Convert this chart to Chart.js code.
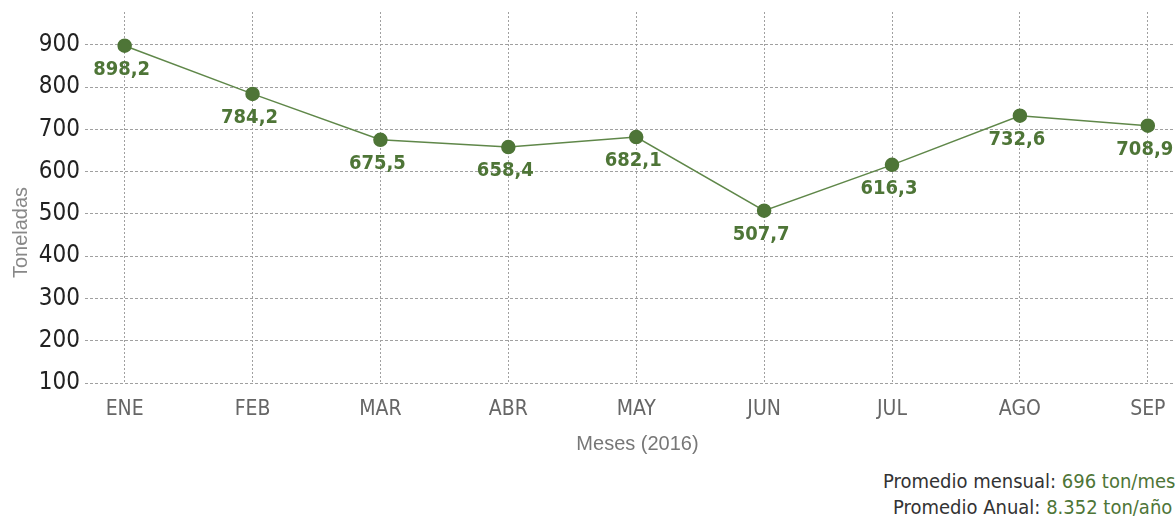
<!DOCTYPE html>
<html>
<head>
<meta charset="utf-8">
<script src="https://cdn.jsdelivr.net/npm/chart.js@4/dist/chart.umd.min.js"></script>
<style>
  html, body { margin: 0; padding: 0; background: #fff; overflow: hidden; }
  #wrap { position: relative; width: 1198px; height: 522px; overflow: hidden; }
  #chart-box { position: absolute; left: 0; top: 0; width: 1198px; height: 460px; }
  .resumen {
    position: absolute; white-space: nowrap;
    font-family: "DejaVu Sans Condensed", "Liberation Sans Narrow", sans-serif;
    font-size: 20px; line-height: 26px; color: #333;
  }
  .resumen b { font-weight: normal; color: #4e7537; }
</style>
</head>
<body>
<div id="wrap">
  <div id="chart-box"><canvas id="line-chart"></canvas></div>
  <div class="resumen" style="left:883px; top:468px;">Promedio mensual: <b>696 ton/mes</b></div>
  <div class="resumen" style="left:893px; top:494px;">Promedio Anual: <b>8.352 ton/año</b></div>
</div>
<script>
var meses = ['ENE', 'FEB', 'MAR', 'ABR', 'MAY', 'JUN', 'JUL', 'AGO', 'SEP'];
var toneladas = [898.2, 784.2, 675.5, 658.4, 682.1, 507.7, 616.3, 732.6, 708.9];
var yMin = 100;
var yMax = 900;
var yStep = 100;

var verde = '#4e7537';

puntos = [];
for (i = 0; i < meses.length; i++) {
    puntos.push({ x: i, y: toneladas[i] });
}

// value labels under each point, decimal comma
var etiquetas = {
    id: 'etiquetas',
    afterDatasetsDraw: function (chart) {
        var ctx = chart.ctx;
        var meta = chart.getDatasetMeta(0);
        ctx.save();
        ctx.font = 'bold 20px "DejaVu Sans Condensed", "Liberation Sans Narrow", sans-serif';
        ctx.fillStyle = verde;
        ctx.textAlign = 'center';
        ctx.textBaseline = 'middle';
        meta.data.forEach(function (p, i) {
            var txt = toneladas[i].toFixed(1).replace('.', ',');
            ctx.fillText(txt, p.x - 3, p.y + 24);
        });
        ctx.restore();
    }
};

// y axis title drawn by hand so it can sit lower than centre
var tituloY = {
    id: 'tituloY',
    afterDraw: function (chart) {
        var ctx = chart.ctx;
        var area = chart.chartArea;
        ctx.save();
        ctx.translate(21, (area.top + area.bottom) / 2 + 35);
        ctx.rotate(-Math.PI / 2);
        ctx.font = '20px "Liberation Sans", Arial, sans-serif';
        ctx.fillStyle = '#888';
        ctx.textAlign = 'center';
        ctx.textBaseline = 'middle';
        ctx.fillText('Toneladas', 0, 0);
        ctx.restore();
    }
};

new Chart(document.getElementById('line-chart'), {
    type: 'line',
    data: {
        datasets: [
            {
                label: 'Toneladas',
                data: puntos,
                borderColor: '#5f8749',
                borderWidth: 1.5,
                backgroundColor: verde,
                pointBackgroundColor: verde,
                pointBorderColor: verde,
                pointRadius: 6.5,
                tension: 0
            }
        ]
    },
    options: {
        responsive: true,
        maintainAspectRatio: false,
        animation: false,
        layout: { padding: { top: 12, left: 0, right: 0, bottom: 0 } },
        plugins: {
            legend: { display: false },
            tooltip: { enabled: false }
        },
        scales: {
            x: {
                type: 'linear',
                min: -0.31,
                max: 8.33,
                afterFit: function (s) { s.height = 77; },
                grid: {
                    color: '#a0a0a0',
                    lineWidth: 1,
                    drawTicks: false
                },
                border: { display: false, dash: [2, 2] },
                ticks: {
                    stepSize: 1,
                    includeBounds: false,
                    autoSkip: false,
                    maxRotation: 0,
                    padding: 16,
                    color: '#666',
                    font: { family: '"Liberation Sans Narrow", "DejaVu Sans Condensed", sans-serif', size: 21, lineHeight: 1 },
                    callback: function (v) { return meses[v] || ''; }
                },
                title: {
                    display: true,
                    text: 'Meses (2016)',
                    color: '#777',
                    font: { family: '"Liberation Sans", Arial, sans-serif', size: 20 },
                    padding: { top: 0, bottom: 4 }
                }
            },
            y: {
                min: yMin,
                max: 978,
                afterFit: function (s) {
                    s.width = 85;
                    s.paddingTop = 0;
                    s.paddingBottom = 0;
                },
                grid: {
                    color: '#a0a0a0',
                    lineWidth: 1,
                    drawTicks: false
                },
                border: { display: false, dash: [3, 2] },
                ticks: {
                    stepSize: yStep,
                    includeBounds: false,
                    padding: 5,
                    color: '#222',
                    font: { family: '"Liberation Sans Narrow", "DejaVu Sans Condensed", sans-serif', size: 24, lineHeight: 1 },
                    callback: function (v) { return v <= yMax ? v : ''; }
                }
            }
        }
    },
    plugins: [etiquetas, tituloY]
});
</script>
</body>
</html>
